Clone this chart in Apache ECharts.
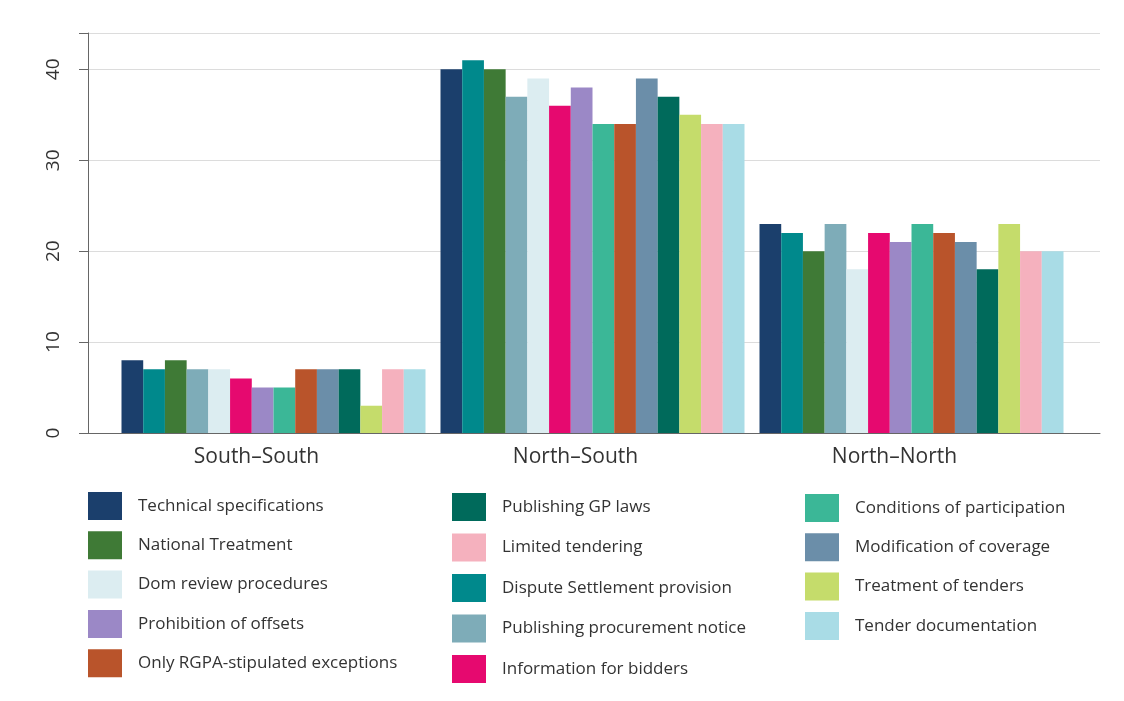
<!DOCTYPE html>
<html>
<head>
<meta charset="utf-8">
<script src="https://cdn.jsdelivr.net/npm/echarts@6/dist/echarts.min.js"></script>
<style>html,body{margin:0;padding:0;background:#fff}#c{width:1124px;height:701px}</style>
</head>
<body>
<div id="c"></div>
<script>
const categories = ['South\u2013South', 'North\u2013South', 'North\u2013North'];
const yTicks = [0, 10, 20, 30, 40];

// Bars in drawing order within each group
const seriesNames = [
  'Technical specifications', 'Dispute Settlement provision', 'National Treatment',
  'Publishing procurement notice', 'Dom review procedures', 'Information for bidders',
  'Prohibition of offsets', 'Conditions of participation', 'Only RGPA-stipulated exceptions',
  'Modification of coverage', 'Publishing GP laws', 'Treatment of tenders',
  'Limited tendering', 'Tender documentation'
];
const technicalSpecifications = [8, 40, 23];
const disputeSettlement = [7, 41, 22];
const nationalTreatment = [8, 40, 20];
const publishingProcurementNotice = [7, 37, 23];
const domReview = [7, 39, 18];
const informationForBidders = [6, 36, 22];
const prohibitionOfOffsets = [5, 38, 21];
const conditionsOfParticipation = [5, 34, 23];
const onlyRGPA = [7, 34, 22];
const modificationOfCoverage = [7, 39, 21];
const publishingGPLaws = [7, 37, 18];
const treatmentOfTenders = [3, 35, 23];
const limitedTendering = [7, 34, 20];
const tenderDocumentation = [7, 34, 20];

const seriesValues = [
  technicalSpecifications, disputeSettlement, nationalTreatment, publishingProcurementNotice,
  domReview, informationForBidders, prohibitionOfOffsets, conditionsOfParticipation,
  onlyRGPA, modificationOfCoverage, publishingGPLaws, treatmentOfTenders,
  limitedTendering, tenderDocumentation
];
const colors = [
  '#1b3f6c', '#00898c', '#3f7a36', '#7eacb8', '#dcedf1', '#e6096f', '#9b88c6',
  '#3bb797', '#b9542b', '#6b8ea9', '#006a5b', '#c5dc6b', '#f5b1be', '#a9dce6'
];

// Legend columns
const legendCol1 = ['Technical specifications', 'National Treatment', 'Dom review procedures', 'Prohibition of offsets', 'Only RGPA-stipulated exceptions'];
const legendCol2 = ['Publishing GP laws', 'Limited tendering', 'Dispute Settlement provision', 'Publishing procurement notice', 'Information for bidders'];
const legendCol3 = ['Conditions of participation', 'Modification of coverage', 'Treatment of tenders', 'Tender documentation'];

const FONT = '"Open Sans", "Noto Sans", sans-serif';
const legendBase = {
  orient: 'vertical', itemWidth: 34, itemHeight: 28, itemGap: 11.3,
  icon: 'rect', selectedMode: false, padding: 0,
  textStyle: { fontSize: 17, color: '#333', fontFamily: FONT, padding: [0, 0, 0, 11] }
};

const chart = echarts.init(document.getElementById('c'), null, { renderer: 'canvas' });
chart.setOption({
  animation: false,
  backgroundColor: '#ffffff',
  color: colors,
  grid: [
    { left: 88, right: 24, top: 33, bottom: 268 },
    { left: 114, right: 53, top: 33, bottom: 268 }
  ],
  legend: [
    Object.assign({}, legendBase, { data: legendCol1, left: 88, top: 492 }),
    Object.assign({}, legendBase, { data: legendCol2, left: 452, top: 493, itemGap: 12.5 }),
    Object.assign({}, legendBase, { data: legendCol3, left: 805, top: 494 })
  ],
  xAxis: [
    {
      type: 'category', data: categories, gridIndex: 0,
      axisLine: { show: true, lineStyle: { color: '#666', width: 1 } },
      axisTick: { show: false }, axisLabel: { show: false }
    },
    {
      type: 'category', data: categories, gridIndex: 1,
      axisLine: { show: false }, axisTick: { show: false },
      axisLabel: { fontSize: 21, color: '#333', fontFamily: FONT, margin: 14, padding: [0, 34, 0, 0] }
    }
  ],
  yAxis: [
    {
      type: 'value', min: 0, max: 44, interval: 10, gridIndex: 0,
      axisLine: { show: true, lineStyle: { color: '#666', width: 1 } },
      axisTick: { show: true, length: 9, lineStyle: { color: '#666' } },
      axisLabel: {
        fontSize: 19, color: '#333', fontFamily: FONT, rotate: 90, margin: 25,
        formatter: v => (yTicks.includes(v) ? String(v) : '')
      },
      splitLine: { show: true, lineStyle: { color: '#dcdcdc', width: 1 } }
    },
    {
      type: 'value', min: 0, max: 44, interval: 10, gridIndex: 1, show: false,
      splitLine: { show: false }
    }
  ],
  series: seriesNames.map((n, i) => ({
    name: n, type: 'bar', data: seriesValues[i],
    xAxisIndex: 1, yAxisIndex: 1,
    barGap: '0%', barCategoryGap: '4.7%',
    itemStyle: { color: colors[i] }
  }))
});
</script>
</body>
</html>
